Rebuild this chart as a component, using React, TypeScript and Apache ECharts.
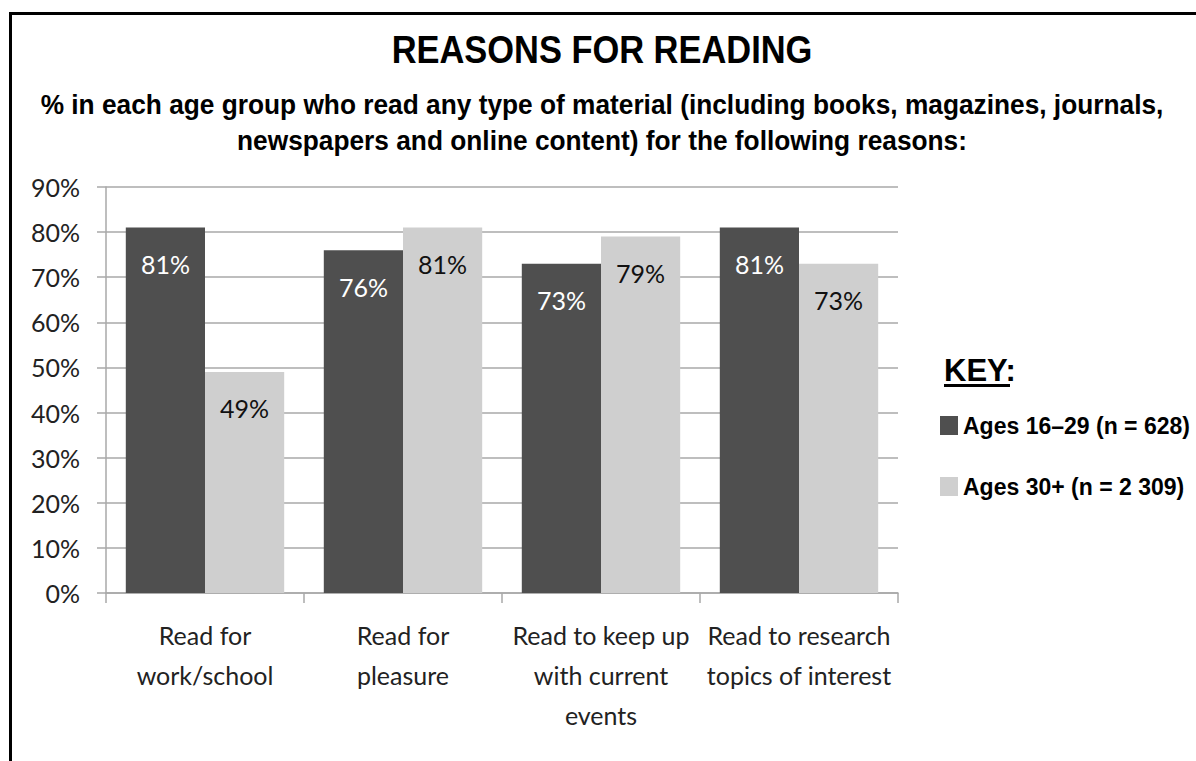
import React, { useEffect, useRef } from "react";
import * as echarts from "echarts";

const categories = [
  "Read for\nwork/school",
  "Read for\npleasure",
  "Read to keep up\nwith current\nevents",
  "Read to research\ntopics of interest",
];
const seriesNames = ["Ages 16–29 (n = 628)", "Ages 30+ (n = 2 309)"];
const young = [81, 76, 73, 81];
const older = [49, 81, 79, 73];
const yTicks = { min: 0, max: 90, interval: 10 };

const titleText = "REASONS FOR READING";
const subtitleLines = [
  "% in each age group who read any type of material (including books, magazines, journals,",
  "newspapers and online content) for the following reasons:",
];

const DARK = "#4f4f4f";
const LIGHT = "#cfcfcf";
const GRID = "#a8a8a8";

export default function App() {
  const ref = useRef<HTMLDivElement>(null);
  useEffect(() => {
    if (!ref.current) return;
    const chart = echarts.init(ref.current, undefined, { renderer: "svg" });
    const sans = "'Liberation Sans', Arial, sans-serif";
    const label = "Lato, 'Open Sans', sans-serif";
    chart.setOption({
      animation: false,
      backgroundColor: "#ffffff",
      grid: { left: 106, right: 298, top: 187, bottom: 168, containLabel: false },
      legend: {
        orient: "vertical",
        left: 940,
        top: 414,
        padding: 0,
        itemWidth: 18,
        itemHeight: 19,
        itemGap: 38,
        icon: "rect",
        data: seriesNames,
        selectedMode: false,
        textStyle: { fontFamily: sans, fontWeight: "bold", fontSize: 23, color: "#000" },
      },
      xAxis: {
        type: "category",
        data: categories,
        axisLine: { show: true, lineStyle: { color: GRID, width: 1.5 } },
        axisTick: { show: true, length: 10, lineStyle: { color: GRID, width: 1.5 } },
        axisLabel: {
          interval: 0,
          margin: 22,
          fontFamily: label,
          fontSize: 25,
          lineHeight: 40,
          color: "#222",
        },
      },
      yAxis: {
        type: "value",
        min: yTicks.min,
        max: yTicks.max,
        interval: yTicks.interval,
        axisLine: { show: true, lineStyle: { color: GRID, width: 1.5 } },
        axisTick: { show: true, length: 9, lineStyle: { color: GRID, width: 1.5 } },
        axisLabel: {
          formatter: "{value}%",
          margin: 26,
          fontFamily: label,
          fontSize: 25,
          color: "#222",
        },
        splitLine: { show: true, lineStyle: { color: GRID, width: 1.5 } },
      },
      series: [
        {
          name: seriesNames[0],
          type: "bar",
          data: young,
          barGap: "0%",
          barCategoryGap: "20%",
          itemStyle: { color: DARK },
          label: {
            show: true,
            position: "insideTop",
            distance: 24,
            formatter: "{c}%",
            fontFamily: label,
            fontSize: 25,
            color: "#ffffff",
          },
        },
        {
          name: seriesNames[1],
          type: "bar",
          data: older,
          barGap: "0%",
          barCategoryGap: "20%",
          itemStyle: { color: LIGHT },
          label: {
            show: true,
            position: "insideTop",
            distance: 24,
            formatter: "{c}%",
            fontFamily: label,
            fontSize: 25,
            color: "#111111",
          },
        },
      ],
      graphic: [
        { type: "rect", shape: { x: 9, y: 12, width: 1187, height: 3 }, style: { fill: "#000" } },
        { type: "rect", shape: { x: 9, y: 12, width: 3, height: 749 }, style: { fill: "#000" } },
        {
          type: "text",
          x: 602,
          y: 50,
          scaleX: 0.883,
          style: {
            text: titleText,
            fontFamily: sans,
            fontWeight: "bold",
            fontSize: 39,
            fill: "#000",
            textAlign: "center",
            textVerticalAlign: "middle",
          },
        },
        {
          type: "text",
          x: 602,
          y: 104,
          scaleX: 0.939,
          style: {
            text: subtitleLines[0],
            fontFamily: sans,
            fontWeight: "bold",
            fontSize: 28,
            fill: "#000",
            textAlign: "center",
            textVerticalAlign: "middle",
          },
        },
        {
          type: "text",
          x: 602,
          y: 140,
          scaleX: 0.939,
          style: {
            text: subtitleLines[1],
            fontFamily: sans,
            fontWeight: "bold",
            fontSize: 28,
            fill: "#000",
            textAlign: "center",
            textVerticalAlign: "middle",
          },
        },
        {
          type: "text",
          x: 944,
          y: 370,
          style: {
            text: "KEY:",
            fontFamily: sans,
            fontWeight: "bold",
            fontSize: 31,
            fill: "#000",
            textAlign: "left",
            textVerticalAlign: "middle",
          },
        },
        { type: "rect", shape: { x: 944, y: 384, width: 66, height: 3 }, style: { fill: "#000" } },
      ],
    });
    return () => chart.dispose();
  }, []);
  return (
    <div
      ref={ref}
      style={{ position: "fixed", left: 0, top: 0, width: 1196, height: 761, background: "#fff" }}
    />
  );
}
